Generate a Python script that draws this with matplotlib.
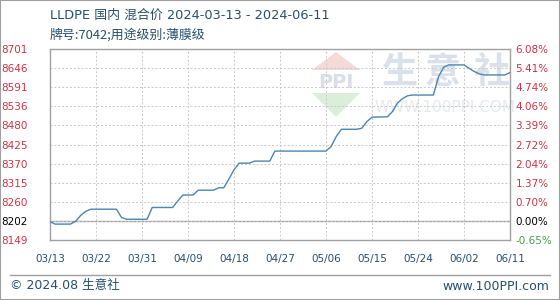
#!/usr/bin/env python3
import matplotlib

matplotlib.use("Agg")
import matplotlib.pyplot as plt
from matplotlib.patches import Polygon, Rectangle
from matplotlib.lines import Line2D
import numpy as np
import pandas as pd

plt.rcParams["font.family"] = ["DejaVu Sans", "Noto Sans CJK SC"]

# price points (change points of the curve)
dates = [
    "2024-03-13", "2024-03-14", "2024-03-17", "2024-03-18", "2024-03-19", "2024-03-20",
    "2024-03-21", "2024-03-26", "2024-03-27", "2024-03-28", "2024-04-01", "2024-04-02",
    "2024-04-06", "2024-04-07", "2024-04-08", "2024-04-10", "2024-04-11", "2024-04-14",
    "2024-04-15", "2024-04-16", "2024-04-17", "2024-04-18", "2024-04-19", "2024-04-21",
    "2024-04-22", "2024-04-25", "2024-04-26", "2024-05-06", "2024-05-07", "2024-05-08",
    "2024-05-09", "2024-05-12", "2024-05-13", "2024-05-14", "2024-05-15", "2024-05-18",
    "2024-05-19", "2024-05-20", "2024-05-21", "2024-05-22", "2024-05-23", "2024-05-27",
    "2024-05-28", "2024-05-29", "2024-05-30", "2024-06-02", "2024-06-03", "2024-06-04",
    "2024-06-05", "2024-06-06", "2024-06-10", "2024-06-11",
]
prices = [
    8202, 8195, 8195, 8203, 8220, 8232,
    8238, 8238, 8214, 8209, 8209, 8243,
    8243, 8262, 8279, 8279, 8293, 8293,
    8300, 8300, 8325, 8352, 8371, 8371,
    8377, 8377, 8406, 8406, 8419, 8448,
    8469, 8469, 8472, 8491, 8504, 8505,
    8520, 8545, 8558, 8566, 8568, 8568,
    8620, 8648, 8655, 8655, 8645, 8636,
    8629, 8626, 8626, 8633,
]

left_labels = ["8149", "8202", "8260", "8315", "8370", "8425", "8480", "8536", "8591", "8646", "8701"]
right_labels = ["-0.65%", "0.00%", "0.70%", "1.37%", "2.04%", "2.72%", "3.39%", "4.06%", "4.74%", "5.41%", "6.08%"]
x_labels = ["03/13", "03/22", "03/31", "04/09", "04/18", "04/27", "05/06", "05/15", "05/24", "06/02", "06/11"]

y_min, y_max = 8149, 8701
start, end = pd.Timestamp("2024-03-13"), pd.Timestamp("2024-06-11")

TEXT = "#24506e"
LINE = "#4a86b0"
RED = "#cc3344"
GREEN = "#44a044"
W, H = 560, 300


def label_color(lbl):
    if lbl.startswith("-"):
        return GREEN
    if lbl in ("0.00%", "8202"):
        return "black"
    return RED


def px(xp, yp):
    # pixel position from the top-left corner -> display coords
    return [xp, H - yp]


fig = plt.figure(figsize=(5.6, 3.0), dpi=100)
ax = fig.add_axes([50 / W, 60 / H, 460 / W, 191 / H])

x = pd.to_datetime(dates)
ax.set_xlim(start, end)
ax.set_ylim(y_min, y_max)

yt = np.linspace(y_min, y_max, len(left_labels))
xt = pd.date_range(start, end, periods=len(x_labels))

# watermark
for cx, ch in zip([400, 443, 491], "生意社"):
    ax.text(*px(cx, 72), ch, transform=None, ha="center", va="center",
            fontsize=26, color="#dbe1ea", family=["Noto Sans CJK SC"], fontweight="bold", zorder=0)
ax.text(*px(445, 107), "WWW.100PPI.COM", transform=None, ha="center", va="center",
        fontsize=11, color="#e6e9ef", zorder=0)
ax.add_patch(Polygon([px(312, 70), px(336, 52), px(360, 70)], closed=True, transform=None,
                     facecolor="#f6dada", edgecolor="none", zorder=0))
ax.add_patch(Polygon([px(312, 93), px(336, 117), px(360, 93)], closed=True, transform=None,
                     facecolor="#daeeda", edgecolor="none", zorder=0))
ax.text(*px(336, 83), "PPI", transform=None, ha="center", va="center", fontsize=14,
        fontweight="bold", color="#d8dfe9", zorder=0)

ax.set_yticks(yt)
ax.set_xticks(xt)
ax.grid(True, color="#c8c8c8", linestyle=(0, (2, 2)), linewidth=0.7)
ax.axhline(yt[1], color="#a0a0a0", linewidth=1.0, zorder=1)
ax.plot(x, prices, color=LINE, linewidth=1.0, zorder=3)

for s in ax.spines.values():
    s.set_color("#a0a0a0")
    s.set_linewidth(1.0)

ax.tick_params(length=0)
ax.set_yticklabels(left_labels, fontsize=7.5)
ax.tick_params(axis="y", pad=16)
for t, lbl in zip(ax.get_yticklabels(), left_labels):
    t.set_color(label_color(lbl))
ax.set_xticklabels(x_labels, fontsize=7.5, color=TEXT)
ax.tick_params(axis="x", pad=10)

ax2 = ax.twinx()
ax2.set_ylim(y_min, y_max)
ax2.set_yticks(yt)
ax2.set_yticklabels(right_labels, fontsize=7.5)
ax2.tick_params(length=0, pad=4)
for t, lbl in zip(ax2.get_yticklabels(), right_labels):
    t.set_color(label_color(lbl))
for s in ax2.spines.values():
    s.set_visible(False)

fig.text(50 / W, 1 - 15 / H, "LLDPE 国内 混合价 2024-03-13 - 2024-06-11",
         ha="left", va="center", fontsize=9.3, color=TEXT)
fig.text(50 / W, 1 - 35 / H, "牌号:7042;用途级别:薄膜级",
         ha="left", va="center", fontsize=9.3, color=TEXT, family=["Noto Sans CJK SC", "DejaVu Sans"])

fig.add_artist(Line2D([10 / W, 550 / W], [1 - 275 / H, 1 - 275 / H], color="#a0a0a0", linewidth=1.0))
fig.text(10 / W, 1 - 286 / H, "© 2024.08 生意社", ha="left", va="center", fontsize=9, color=TEXT)
fig.text(549 / W, 1 - 286 / H, "www.100PPI.com", ha="right", va="center", fontsize=9, color=TEXT)

fig.add_artist(Rectangle((0, 0), 1, 1, transform=fig.transFigure, fill=False,
                         edgecolor="#a0a0a0", linewidth=1.5))

fig.savefig("out.png", dpi=100)
